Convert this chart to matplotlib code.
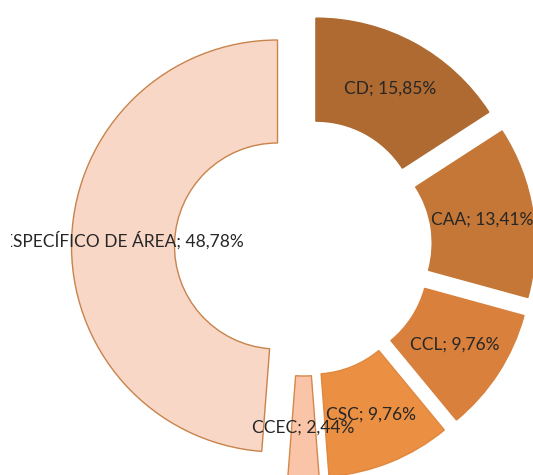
import matplotlib
matplotlib.use("Agg")
import matplotlib.pyplot as plt

# data, clockwise from 12 o'clock
categories = ["CD", "CAA", "CCL", "CSC", "CCEC", "ESPECÍFICO DE ÁREA"]
percent = [15.85, 13.41, 9.76, 9.76, 2.44, 48.78]
colors = ["#AE6A31", "#C47737", "#D8803C", "#EB8F42", "#F9C4A8", "#F9D7C7"]
edges = ["#AE6A31", "#C47737", "#D8803C", "#E08840", "#D4884A", "#C8834A"]

W, H = 533, 475
cx, cy = 303.5, 247.0   # pie centre in pixels (from top-left)
R = 206.0               # outer radius in pixels
left_clip = 11          # plot area starts a bit in from the left edge

fig = plt.figure(figsize=(W / 100, H / 100), dpi=100)
ax = fig.add_axes([left_clip / W, 0, (W - left_clip) / W, 1])

labels = [f"{c}; {p:.2f}%".replace(".", ",") for c, p in zip(categories, percent)]

wedges, texts = ax.pie(percent, labels=labels, colors=colors,
                       explode=[26 / R] * len(percent), radius=1.0,
                       startangle=90, counterclock=False,
                       labeldistance=0.75,
                       wedgeprops=dict(width=0.5, linewidth=1.0))
for w, ec in zip(wedges, edges):
    w.set_edgecolor(ec)
for t in texts:
    t.set_ha("center")
    t.set_va("center")
    t.set_fontsize(12.5)
    t.set_family("Lato")
    t.set_color("#262626")
    t.set_clip_on(True)

ax.set_xlim((left_clip - cx) / R, (W - cx) / R)
ax.set_ylim(-(H - cy) / R, cy / R)
ax.set_aspect("equal")
ax.axis("off")

fig.savefig("out.png", dpi=100)
